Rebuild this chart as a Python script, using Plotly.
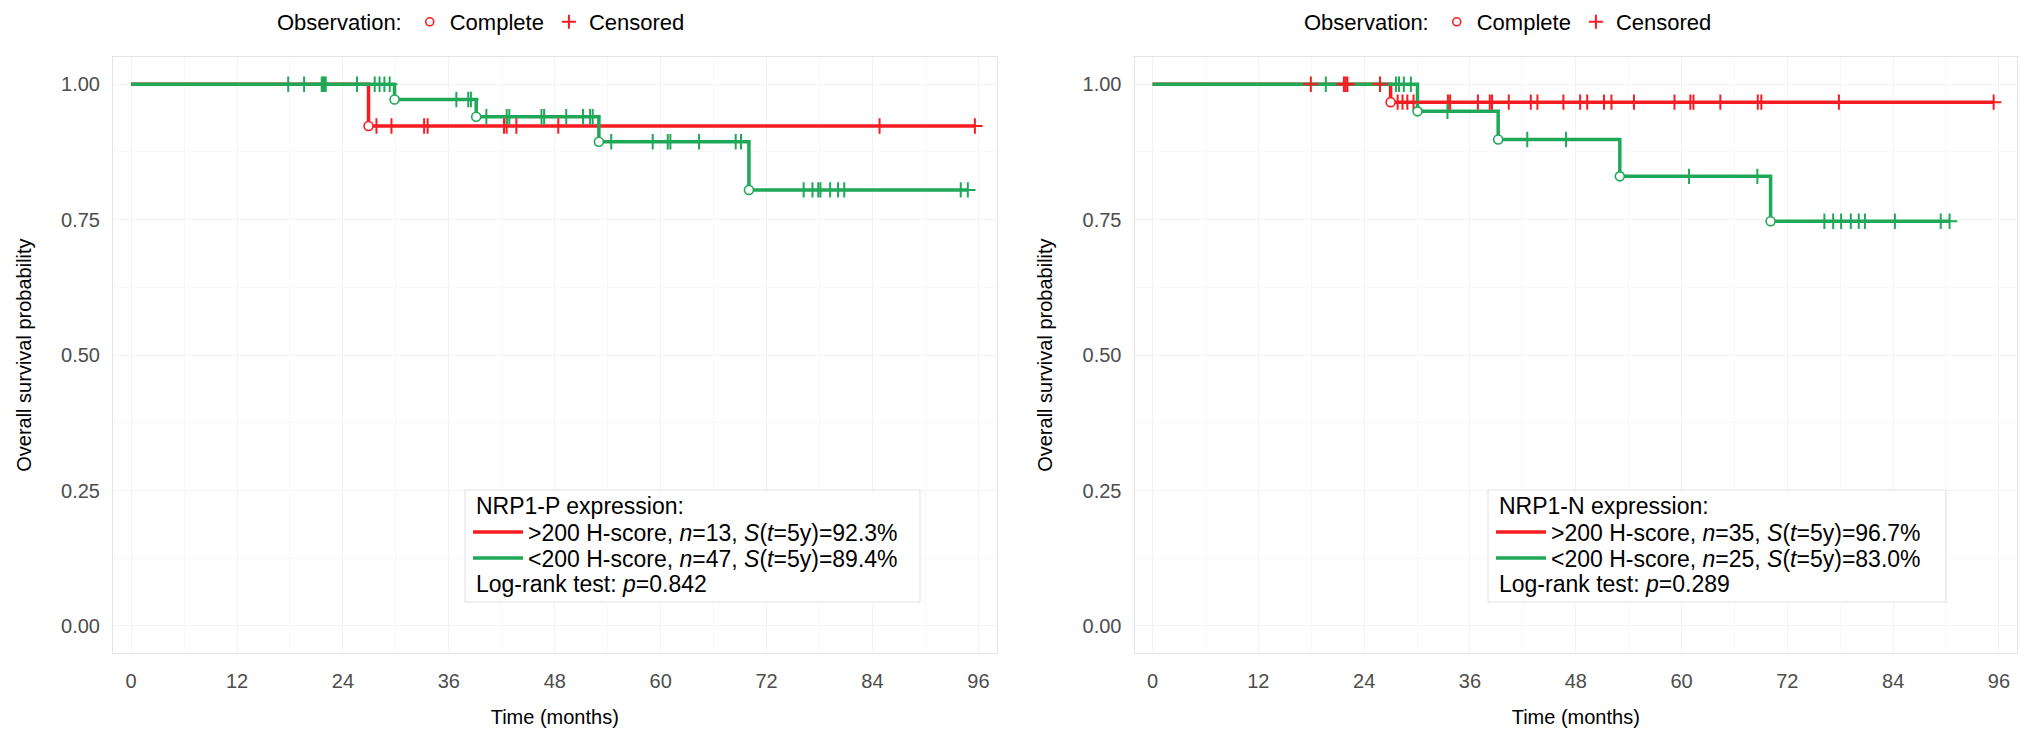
import plotly.graph_objects as go

RED = "#F61C22"
GREEN = "#1FA857"
FONT = "Liberation Sans, Arial, sans-serif"

time_ticks = [0, 12, 24, 36, 48, 60, 72, 84, 96]
surv_ticks = [0, 0.25, 0.5, 0.75, 1.0]
surv_tick_labels = ["0.00", "0.25", "0.50", "0.75", "1.00"]

# ---- Panel 1: NRP1-P expression ----
p_hi_event_times = [26.9]
p_hi_event_surv = [0.923]
p_hi_censor_times = [27.8, 29.5, 33.2, 33.6, 42.25, 42.55, 43.65, 48.4, 84.8, 95.6]
p_lo_event_times = [29.85, 39.1, 53.0, 70.0]
p_lo_event_surv = [0.972, 0.940, 0.894, 0.805]
p_lo_censor_times = [17.8, 19.6, 21.6, 21.75, 21.9, 22.05, 25.6, 27.6, 28.15, 28.7, 29.3,
                     36.85, 38.2, 38.5,
                     40.25, 42.55, 42.85, 46.5, 46.8, 49.3, 51.2, 52.0, 52.3,
                     54.4, 59.1, 60.8, 61.1, 64.35, 68.5, 69.1,
                     76.2, 77.2, 77.85, 78.1, 79.2, 80.1, 80.8, 94.0, 94.8]

# ---- Panel 2: NRP1-N expression ----
n_hi_event_times = [27.0]
n_hi_event_surv = [0.967]
n_hi_censor_times = [17.95, 21.7, 21.9, 22.1, 25.8,
                     27.8, 28.35, 28.9, 29.6, 33.5, 33.75, 36.9, 38.25, 38.5, 40.4,
                     42.9, 43.65, 46.6, 48.5, 49.3, 51.2, 52.05, 54.6, 59.2, 61.0, 61.35,
                     64.4, 68.65, 69.05, 77.85, 95.4]
n_lo_event_times = [30.05, 39.2, 53.0, 70.1]
n_lo_event_surv = [0.950, 0.898, 0.830, 0.747]
n_lo_censor_times = [19.65, 27.6, 27.95, 28.5, 29.3, 33.45, 42.5, 46.9, 60.85, 68.6,
                     76.2, 77.2, 78.1, 79.2, 80.1, 80.8, 84.2, 89.4, 90.4]

panel_titles = ["NRP1-P expression:", "NRP1-N expression:"]
hi_labels = ["&gt;200 H-score, <i>n</i>=13, <i>S</i>(<i>t</i>=5y)=92.3%",
             "&gt;200 H-score, <i>n</i>=35, <i>S</i>(<i>t</i>=5y)=96.7%"]
lo_labels = ["&lt;200 H-score, <i>n</i>=47, <i>S</i>(<i>t</i>=5y)=89.4%",
             "&lt;200 H-score, <i>n</i>=25, <i>S</i>(<i>t</i>=5y)=83.0%"]
logrank_labels = ["Log-rank test: <i>p</i>=0.842", "Log-rank test: <i>p</i>=0.289"]


def step_xy(evt_t, evt_s, cens_t):
    end = max(list(cens_t) + list(evt_t))
    return [0.0] + list(evt_t) + [end], [1.0] + list(evt_s) + [evt_s[-1]]


def surv_at(t, evt_t, evt_s):
    s = 1.0
    for et, es in zip(evt_t, evt_s):
        if t >= et:
            s = es
    return s


W, H = 2032, 746
fig = go.Figure()

panels = [
    dict(hi=(p_hi_event_times, p_hi_event_surv, p_hi_censor_times),
         lo=(p_lo_event_times, p_lo_event_surv, p_lo_censor_times)),
    dict(hi=(n_hi_event_times, n_hi_event_surv, n_hi_censor_times),
         lo=(n_lo_event_times, n_lo_event_surv, n_lo_censor_times)),
]
row_legends = [("legend3", "legend5"), ("legend4", "legend6")]

for i, pn in enumerate(panels):
    xa = "x" if i == 0 else "x2"
    ya = "y" if i == 0 else "y2"
    groups = [("hi", RED, hi_labels[i], row_legends[i][0]),
              ("lo", GREEN, lo_labels[i], row_legends[i][1])]
    for key, col, lab, lg in groups:
        et, es, ct = pn[key]
        xs, ys = step_xy(et, es, ct)
        fig.add_trace(go.Scatter(x=xs, y=ys, mode="lines", line=dict(color=col, width=3.5, shape="hv"),
                                 name=lab, xaxis=xa, yaxis=ya, legend=lg, hoverinfo="skip"))
    for key, col, lab, lg in groups:
        et, es, ct = pn[key]
        fig.add_trace(go.Scatter(x=ct, y=[surv_at(t, et, es) for t in ct], mode="markers",
                                 marker=dict(symbol="cross-thin", size=11, color=col,
                                             line=dict(color=col, width=2)),
                                 showlegend=False, xaxis=xa, yaxis=ya, hoverinfo="skip"))
    for key, col, lab, lg in groups:
        et, es, ct = pn[key]
        fig.add_trace(go.Scatter(x=et, y=es, mode="markers",
                                 marker=dict(symbol="circle", size=9, color="white",
                                             line=dict(color=col, width=1.6)),
                                 showlegend=False, xaxis=xa, yaxis=ya, hoverinfo="skip"))

for lg in ["legend", "legend2"]:
    fig.add_trace(go.Scatter(x=[None], y=[None], mode="markers", name="Complete", legend=lg,
                             marker=dict(symbol="circle", size=8, color="white",
                                         line=dict(color=RED, width=1.6))))
    fig.add_trace(go.Scatter(x=[None], y=[None], mode="markers", name="Censored", legend=lg,
                             marker=dict(symbol="cross-thin", size=10, color=RED,
                                         line=dict(color=RED, width=2))))

px = lambda v: v / W
py = lambda v: 1 - v / H

axis_common = dict(
    showline=True, mirror=True, linecolor="#e4e4e4", linewidth=1,
    showgrid=True, gridcolor="#f3f3f3", gridwidth=1, zeroline=False,
    ticks="outside", tickcolor="rgba(0,0,0,0)",
    tickfont=dict(family=FONT, size=20, color="#4d4d4d"),
)

x_domains = [[px(113), px(996.5)], [px(1134.5), px(2017)]]
y_domain = [py(653), py(57.2)]

layout = dict(
    width=W, height=H, margin=dict(l=0, r=0, t=0, b=0),
    paper_bgcolor="white", plot_bgcolor="white",
    font=dict(family=FONT, size=20, color="black"),
    showlegend=True,
)
for i, nm in enumerate(["xaxis", "xaxis2"]):
    layout[nm] = dict(axis_common, domain=x_domains[i], range=[-2.05, 98.05],
                      tickvals=time_ticks, ticktext=[str(t) for t in time_ticks], ticklen=10,
                      anchor="y" if i == 0 else "y2",
                      minor=dict(dtick=6, tick0=0, showgrid=True, gridcolor="#f8f8f8", ticks=""),
                      title=dict(text="Time (months)", font=dict(family=FONT, size=20, color="black"),
                                 standoff=18))
for i, nm in enumerate(["yaxis", "yaxis2"]):
    layout[nm] = dict(axis_common, domain=y_domain, range=[-0.05, 1.05],
                      tickvals=surv_ticks, ticktext=surv_tick_labels, ticklen=8,
                      anchor="x" if i == 0 else "x2",
                      minor=dict(dtick=0.125, tick0=0, showgrid=True, gridcolor="#f8f8f8", ticks=""),
                      title=dict(text="Overall survival probability",
                                 font=dict(family=FONT, size=20, color="black"), standoff=24))

top_leg = dict(orientation="h", xanchor="left", yanchor="middle", y=py(22),
               title=dict(text="Observation:", side="left", font=dict(family=FONT, size=22, color="black")),
               font=dict(family=FONT, size=22, color="black"), bgcolor="rgba(0,0,0,0)",
               itemwidth=30, itemclick=False, itemdoubleclick=False)
layout["legend"] = dict(top_leg, x=px(275))
layout["legend2"] = dict(top_leg, x=px(1302))

LEG_FS = 23
box_left = [465, 1488]
box_right = [920, 1946]
box_top, box_bot = 490, 602
row_y = [506, 532, 558, 584]
shapes, annos = [], []
for i in range(2):
    for j, lg in enumerate(row_legends[i]):
        layout[lg] = dict(
            x=px(box_left[i] + 3), xanchor="left", y=py(row_y[j + 1]), yanchor="middle",
            font=dict(family=FONT, size=LEG_FS, color="black"), bgcolor="rgba(0,0,0,0)",
            borderwidth=0, itemwidth=50, itemclick=False, itemdoubleclick=False)
    shapes.append(dict(type="rect", xref="paper", yref="paper", x0=px(box_left[i]), x1=px(box_right[i]),
                       y0=py(box_bot), y1=py(box_top), line=dict(color="#e0e0e0", width=1),
                       fillcolor="white", layer="above"))
    annos.append(dict(xref="paper", yref="paper", x=px(box_left[i] + 9), y=py(row_y[0]), xanchor="left",
                      yanchor="middle", showarrow=False, text=panel_titles[i],
                      font=dict(family=FONT, size=LEG_FS, color="black")))
    annos.append(dict(xref="paper", yref="paper", x=px(box_left[i] + 9), y=py(row_y[3]), xanchor="left",
                      yanchor="middle", showarrow=False, text=logrank_labels[i],
                      font=dict(family=FONT, size=LEG_FS, color="black")))
layout["shapes"] = shapes
layout["annotations"] = annos

fig.update_layout(**layout)
fig.write_html("out.html", config={"displayModeBar": False},
               post_script="document.body.style.margin='0';")
